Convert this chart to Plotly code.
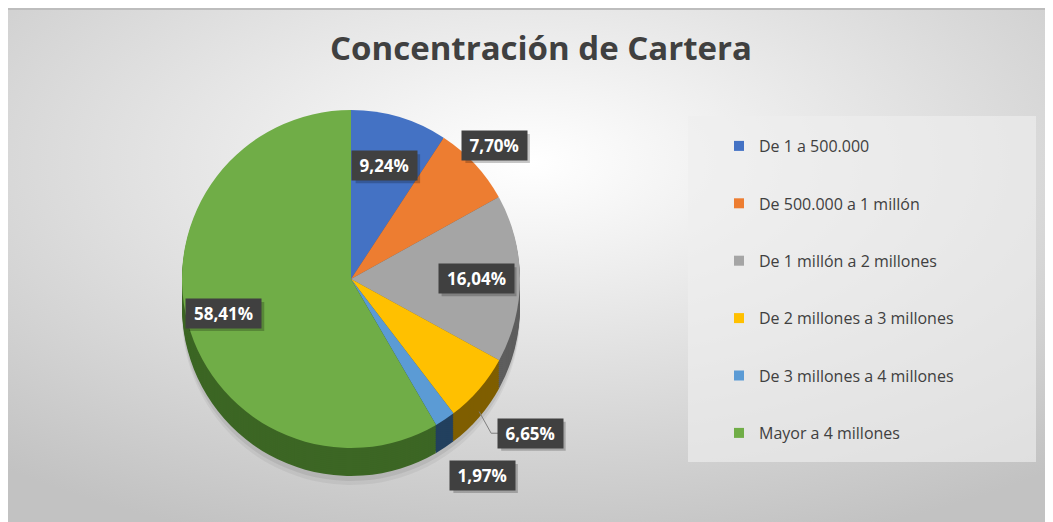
import base64
import math
import plotly.graph_objects as go

# ---------------- data ----------------
categories = [
    "De 1 a 500.000",
    "De 500.000 a 1 millón",
    "De 1 millón a 2 millones",
    "De 2 millones a 3 millones",
    "De 3 millones a 4 millones",
    "Mayor a 4 millones",
]
shares = [9.24, 7.70, 16.04, 6.65, 1.97, 58.41]
title_text = "Concentración de Cartera"

# ---------------- styles ----------------
top_colors = ["#4472C4", "#ED7D31", "#A5A5A5", "#FFC000", "#5B9BD5", "#70AD47"]
side_colors = ["#2B4A82", "#8E4A1C", "#5E5E5E", "#7F5E00", "#22405E", "#3C6624"]
label_radius = [0.70, 1.16, 0.74, 1.40, 1.40, 0.78]
label_leader = [False, False, False, True, False, False]

OFF = 8                          # page body margin
W, H = 1045, 514                 # figure size
CX, CY, R = 351, 279, 169        # pie centre / radius (screen px)
DEPTH = 28                       # extrusion depth in px
LAYERS = 14


def px_x(sx):
    return (sx - OFF) / W


def px_y(sy):
    return 1 - (sy - OFF) / H


def pie_domain(offset):
    return dict(
        x=[px_x(CX - R), px_x(CX + R)],
        y=[px_y(CY + R + offset), px_y(CY - R + offset)],
    )


fig = go.Figure()

# soft shadow under the pie
for off, a in [(DEPTH + 9, 0.05), (DEPTH + 5, 0.07)]:
    fig.add_trace(go.Pie(
        labels=categories, values=shares, sort=False, direction="clockwise",
        marker=dict(colors=[f"rgba(0,0,0,{a})"] * len(shares), line=dict(width=0)),
        textinfo="none", hoverinfo="skip", showlegend=False,
        domain=pie_domain(off),
    ))

# extruded side: stacked darker pies
for k in range(LAYERS, 0, -1):
    off = DEPTH * k / LAYERS
    fig.add_trace(go.Pie(
        labels=categories, values=shares, sort=False, direction="clockwise",
        rotation=0, marker=dict(colors=side_colors, line=dict(width=0)),
        textinfo="none", hoverinfo="skip", showlegend=False,
        domain=pie_domain(off),
    ))

# top face
fig.add_trace(go.Pie(
    labels=categories, values=shares, sort=False, direction="clockwise",
    rotation=0, marker=dict(colors=top_colors, line=dict(width=0)),
    textinfo="none", showlegend=False, domain=pie_domain(0),
))

# legend entries
for name, col in zip(categories, top_colors):
    fig.add_trace(go.Scatter(
        x=[None], y=[None], mode="markers", name=name, legendgroup=name,
        marker=dict(symbol="square", size=10, color=col),
    ))

# ---------------- data labels ----------------
total = sum(shares)
annotations = []
shapes = []
cum = 0.0
PAD = 4
for v, rf, lead in zip(shares, label_radius, label_leader):
    mid = (cum + v / 2) / total * 2 * math.pi
    cum += v
    lx = CX + R * rf * math.sin(mid)
    ly = CY - R * rf * math.cos(mid)
    txt = f"{v:.2f}".replace(".", ",") + "%"
    tw = 10.5 * len(txt) + 4
    th = 21
    bw, bh = tw + 2 * PAD, th + 2 * PAD
    # drop shadow of the label box
    shapes.append(dict(type="rect", xref="paper", yref="paper",
                       x0=px_x(lx - bw / 2 + 3), x1=px_x(lx + bw / 2 + 3),
                       y0=px_y(ly + bh / 2 + 3), y1=px_y(ly - bh / 2 + 3),
                       fillcolor="rgba(0,0,0,0.22)", line=dict(width=0),
                       layer="above"))
    annotations.append(dict(
        x=px_x(lx), y=px_y(ly), xref="paper", yref="paper",
        xanchor="center", yanchor="middle", width=tw, height=th,
        text=f"<b>{txt}</b>", showarrow=False, bgcolor="#404040",
        font=dict(family="Open Sans", size=17, color="white"),
        borderpad=PAD,
    ))
    if lead:
        sx = CX + R * 1.0 * math.sin(mid)
        sy = CY - R * 1.0 * math.cos(mid) + DEPTH * 0.8
        ex = lx - bw / 2
        shapes.append(dict(type="line", xref="paper", yref="paper",
                           x0=px_x(sx), y0=px_y(sy), x1=px_x(sx + 12), y1=px_y(ly),
                           line=dict(color="#7f7f7f", width=1)))
        shapes.append(dict(type="line", xref="paper", yref="paper",
                           x0=px_x(sx + 12), y0=px_y(ly), x1=px_x(ex), y1=px_y(ly),
                           line=dict(color="#7f7f7f", width=1)))

# frame line on top
shapes.append(dict(type="line", xref="paper", yref="paper",
                   x0=0, x1=1, y0=px_y(9), y1=px_y(9),
                   line=dict(color="#bdbdbd", width=2), layer="below"))
# legend box
shapes.append(dict(type="rect", xref="paper", yref="paper",
                   x0=px_x(688), x1=px_x(1036), y0=px_y(462), y1=px_y(116),
                   fillcolor="rgba(238,238,238,0.65)", line=dict(width=0),
                   layer="below"))

# background gradient image
svg = (
    f'<svg xmlns="http://www.w3.org/2000/svg" width="{W}" height="{H}" '
    f'preserveAspectRatio="none" viewBox="0 0 {W} {H}">'
    '<defs><radialGradient id="g" cx="0.5" cy="0.3" r="0.78">'
    '<stop offset="0" stop-color="#ffffff"/>'
    '<stop offset="1" stop-color="#c2c2c2"/>'
    '</radialGradient></defs>'
    f'<rect width="{W}" height="{H}" fill="url(#g)"/></svg>'
)
src = "data:image/svg+xml;base64," + base64.b64encode(svg.encode()).decode()

fig.update_layout(
    width=W, height=H,
    margin=dict(l=0, r=0, t=0, b=0),
    paper_bgcolor="white", plot_bgcolor="rgba(0,0,0,0)",
    xaxis=dict(visible=False), yaxis=dict(visible=False),
    title=dict(text=f"<b>{title_text}</b>", x=px_x(541), xanchor="center",
               y=px_y(48), yanchor="middle",
               font=dict(family="Open Sans", size=33, color="#404040")),
    legend=dict(x=px_x(719), y=px_y(129), xanchor="left", yanchor="top",
                bgcolor="rgba(0,0,0,0)", traceorder="grouped",
                tracegroupgap=33.6,
                font=dict(family="Open Sans", size=16, color="#404040")),
    images=[dict(source=src, xref="paper", yref="paper", x=0, y=1,
                 sizex=1, sizey=1, xanchor="left",
                 yanchor="top", sizing="stretch", layer="below")],
    annotations=annotations,
    shapes=shapes,
)

fig.write_html("out.html")
